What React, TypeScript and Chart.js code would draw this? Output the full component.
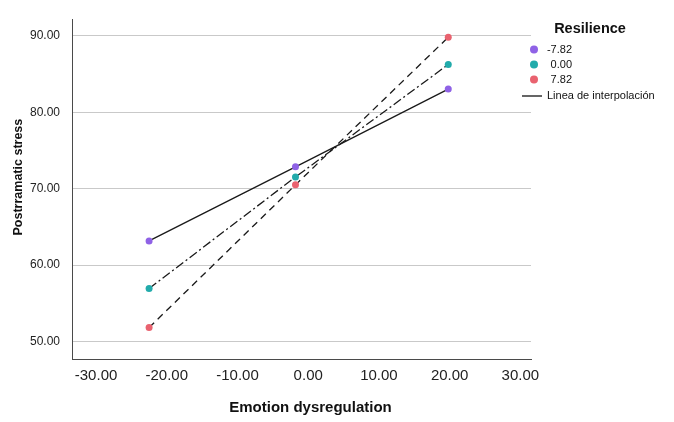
import React, { useEffect, useRef } from "react";
import { Chart, registerables } from "chart.js";

Chart.register(...registerables);

const xValues = [-22.5, -1.8, 19.8];
const lowResilience = [63.17, 72.86, 83.02];
const meanResilience = [56.94, 71.53, 86.24];
const highResilience = [51.84, 70.5, 89.8];
const seriesLabels = ["-7.82", "0.00", "7.82"];
const seriesColors = ["#8F62E6", "#22ABAB", "#E9626F"];
const lineDashes = [[], [9, 3, 2, 3], [7, 5]];
const xTicks = [-30, -20, -10, 0, 10, 20, 30];
const yTicks = [50, 60, 70, 80, 90];
const xTitle = "Emotion dysregulation";
const yTitle = "Postrramatic stress";
const legendTitle = "Resilience";
const lineLegendLabel = "Linea de interpolación";

const FONT = "'Liberation Sans', Arial, Helvetica, sans-serif";

const titlesPlugin = {
  id: "customTitles",
  afterDraw(chart: any) {
    const ctx = chart.ctx;
    const area = chart.chartArea;
    ctx.save();
    ctx.fillStyle = "#111";
    // x title
    ctx.font = `bold 15px ${FONT}`;
    ctx.textAlign = "center";
    ctx.textBaseline = "middle";
    ctx.fillText(xTitle, (area.left + area.right) / 2 + 9, 408);
    // y title
    ctx.save();
    ctx.translate(19, (area.top + area.bottom) / 2 - 12);
    ctx.rotate(-Math.PI / 2);
    ctx.font = `bold 12.5px ${FONT}`;
    ctx.fillText(yTitle, 0, 0);
    ctx.restore();

    // legend
    ctx.font = `bold 14.5px ${FONT}`;
    ctx.textAlign = "center";
    ctx.fillText(legendTitle, 590, 29);
    ctx.font = `11px ${FONT}`;
    const ys = [49.5, 64.5, 79.5];
    chart.data.datasets.forEach((ds: any, i: number) => {
      ctx.beginPath();
      ctx.fillStyle = ds.pointBackgroundColor;
      ctx.arc(534, ys[i], 4, 0, Math.PI * 2);
      ctx.fill();
      ctx.fillStyle = "#111";
      ctx.textAlign = "right";
      ctx.fillText(ds.label, 572, ys[i]);
    });
    ctx.strokeStyle = "#111";
    ctx.lineWidth = 1.3;
    ctx.beginPath();
    ctx.moveTo(522, 96);
    ctx.lineTo(542, 96);
    ctx.stroke();
    ctx.textAlign = "left";
    ctx.fillStyle = "#111";
    ctx.fillText(lineLegendLabel, 547, 96);
    ctx.restore();
  },
};

export default function App() {
  const ref = useRef<HTMLCanvasElement | null>(null);
  useEffect(() => {
    if (!ref.current) return;
    const seriesValues = [lowResilience, meanResilience, highResilience];
    const chart = new Chart(ref.current, {
      type: "line",
      data: {
        datasets: seriesValues.map((vals, i) => ({
          label: seriesLabels[i],
          data: xValues.map((x, j) => ({ x, y: vals[j] })),
          borderColor: "#1a1a1a",
          borderWidth: 1.3,
          borderDash: lineDashes[i],
          pointBackgroundColor: seriesColors[i],
          pointBorderColor: seriesColors[i],
          pointRadius: 3.5,
          pointBorderWidth: 0,
          fill: false,
          tension: 0,
        })),
      },
      options: {
        responsive: false,
        animation: false,
        events: [],
        layout: { padding: { top: 14, right: 143, left: 0, bottom: 0 } },
        plugins: { legend: { display: false }, tooltip: { enabled: false } },
        scales: {
          x: {
            type: "linear",
            min: -33.4,
            max: 31.5,
            afterBuildTicks: (s: any) => {
              s.ticks = xTicks.map((v) => ({ value: v }));
            },
            afterFit: (s: any) => {
              s.height = 63;
            },
            grid: { display: false, drawTicks: false },
            border: { display: true, color: "#4a4a4a", width: 1 },
            ticks: {
              padding: 8,
              color: "#222",
              font: { family: FONT, size: 15 },
              callback: (v: any) => Number(v).toFixed(2),
              maxRotation: 0,
              autoSkip: false,
            },
          },
          y: {
            type: "linear",
            min: 47.73,
            max: 92.16,
            afterBuildTicks: (s: any) => {
              s.ticks = yTicks.map((v) => ({ value: v }));
            },
            afterFit: (s: any) => {
              s.width = 72;
            },
            grid: { display: true, color: "#c9c9c9", lineWidth: 1, drawTicks: false },
            border: { display: true, color: "#4a4a4a", width: 1 },
            ticks: {
              padding: 12,
              color: "#222",
              font: { family: FONT, size: 12 },
              callback: (v: any) => Number(v).toFixed(2),
              autoSkip: false,
            },
          },
        },
      },
      plugins: [titlesPlugin],
    } as any);
    return () => chart.destroy();
  }, []);
  return (
    <div style={{ position: "fixed", left: 0, top: 0, width: 674, height: 422, background: "#fff" }}>
      <canvas ref={ref} width={674} height={422} style={{ display: "block" }} />
    </div>
  );
}
